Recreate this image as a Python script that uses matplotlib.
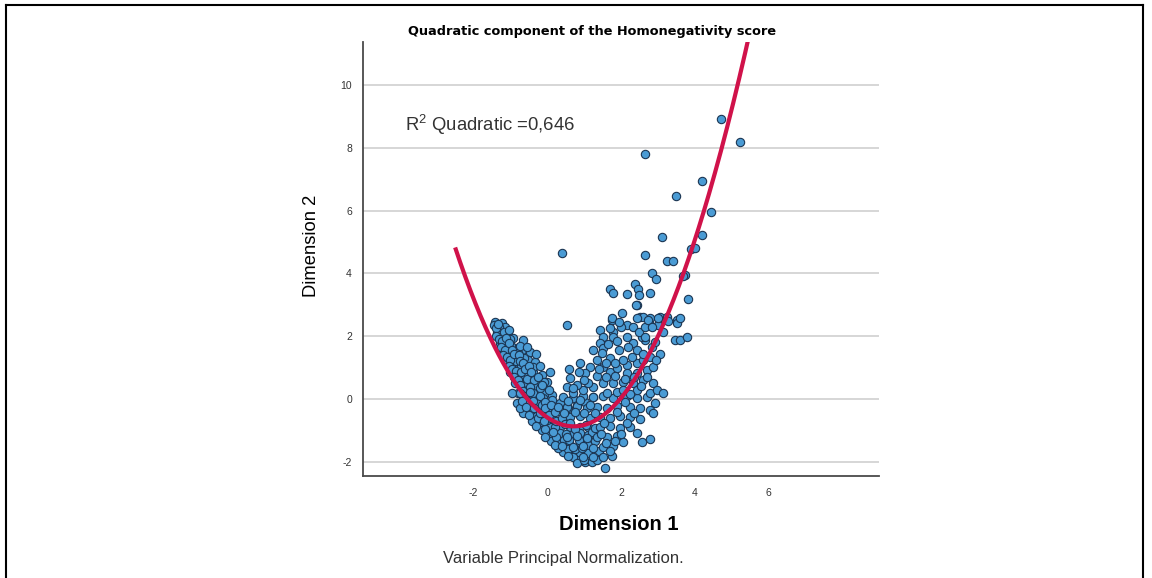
import numpy as np
import matplotlib
matplotlib.use('Agg')
import matplotlib.pyplot as plt
from matplotlib.lines import Line2D

# ---------------- data (Dimension 1, Dimension 2) ----------------
left_arm = [(-1.41,2.45),(-1.22,2.42),(-1.28,2.26),(-1.14,2.29),(-1.28,1.97),(-1.09,1.88),(-0.92,1.94),
            (-0.65,1.88),(-1.06,1.66),(-0.87,1.62),(-0.68,1.56),(-0.46,1.50),(-0.92,1.34),(-0.73,1.31),
            (-0.52,1.24),(-0.33,1.18),(0.08,0.86),(-0.95,1.08),(-0.79,0.99),(-0.54,0.92),(-0.38,0.86),
            (-0.14,0.76),(-0.81,0.70),(-0.65,0.61),(-0.46,0.54),(-0.24,0.51),(0.00,0.54),(-0.68,0.35),
            (-0.52,0.29),(-0.27,0.22),(-0.05,0.19),(0.14,0.13),(-0.54,0.03),(-0.33,0.03),(-0.11,0.03),
            (0.14,-0.03),(-1.19,1.56),(-1.09,1.24),(-1.00,0.86),(-0.87,0.51),(-0.79,0.19),(-1.28,1.78),
            (-1.36,2.10),(-1.20,2.05),(-1.15,1.75),(-1.02,1.45),(-0.98,1.70),(-0.80,1.48),(-0.85,1.20),
            (-0.62,1.30),(-0.70,1.05),(-0.60,0.75),(-0.45,0.70),(-0.40,1.02),(-0.55,0.50),(-0.35,0.40),
            (-0.20,0.35),(-0.42,0.15),(-1.30,2.30),(-1.25,2.10),(-1.10,2.00),(-1.00,1.90),(-0.75,1.70),
            (-0.55,1.65),(-0.30,1.45),(-0.20,1.05),(-0.10,0.55),(0.05,0.30),
            (-1.45,2.35),(-1.38,2.25),(-1.33,2.40),(-1.18,2.15),(-1.05,2.20),(-1.40,2.00),(-1.32,1.90),
            (-1.22,1.85),(-1.12,1.95),(-1.25,1.65),(-1.15,1.55),(-1.05,1.80),(-0.95,1.55),(-1.20,1.40),
            (-1.10,1.35),(-1.00,1.25),(-0.90,1.45),(-0.78,1.40),(-1.05,1.05),(-0.95,0.95),(-0.85,0.90),
            (-0.75,1.20),(-0.65,1.15),(-0.90,0.70),(-0.80,0.60),(-0.70,0.85),(-0.60,0.95),(-0.50,1.05),
            (-0.75,0.45),(-0.65,0.25),(-0.55,0.65),(-0.45,0.85),(-0.35,0.60),(-0.62,0.10),(-0.48,0.38),
            (-0.38,0.20),(-0.25,0.70),(-0.15,0.45)]

bottom_arm = [(-0.95,0.19),(-0.73,0.19),(-0.46,0.22),(-0.81,-0.13),(-0.54,-0.13),(-0.27,-0.25),(0.35,-0.13),
              (0.57,-0.29),(0.81,-0.19),(1.03,-0.10),(-0.65,-0.45),(-0.38,-0.51),(-0.11,-0.51),(-0.42,-0.70),
              (-0.19,-0.76),(0.08,-0.89),(0.35,-0.89),(0.62,-0.89),(0.90,-0.89),(1.11,-0.89),(-0.15,-1.00),
              (0.08,-1.15),(0.35,-1.08),(0.62,-1.15),(0.90,-1.08),(1.11,-1.15),(0.10,-1.35),(0.35,-1.40),
              (0.62,-1.46),(0.90,-1.40),(1.11,-1.46),(0.43,-1.69),(0.68,-1.72),(0.90,-1.72),(1.11,-1.72),
              (0.81,-1.94),(1.03,-2.01),(-0.73,-0.29),(0.00,-0.67),(-0.30,-0.10),(-0.15,-0.20),(-0.45,-0.35),
              (-0.25,-0.60),(0.00,-0.35),(0.10,-0.60),(0.20,-0.90),(-0.05,-0.95),(0.25,-1.20),(0.45,-1.30),
              (0.30,-1.55),(0.55,-1.60),(0.70,-1.85),
              (-0.68,-0.05),(-0.58,-0.25),(-0.40,-0.05),(-0.20,0.10),(-0.05,-0.10),(-0.50,-0.50),(-0.35,-0.30),
              (-0.20,-0.45),(-0.05,-0.30),(0.10,-0.20),(-0.30,-0.85),(-0.10,-0.70),(0.05,-0.50),(0.20,-0.40),
              (-0.05,-1.20),(0.15,-1.05),(0.25,-0.70),(0.40,-0.60),(0.20,-1.45),(0.40,-1.50),(0.50,-1.10),
              (0.60,-1.30),(0.55,-1.80),(0.75,-1.60),(0.85,-1.30),(0.95,-1.55),(0.80,-2.05),(1.00,-1.95),
              (1.20,-2.00),(1.35,-1.95),(1.40,-1.65),(1.30,-1.35),(1.20,-1.05)]

lower_core = [(0.43,0.08),(0.71,0.03),(0.98,0.10),(1.25,0.05),(1.52,0.09),(1.79,0.02),(2.17,0.11),(2.44,0.04),
              (2.71,0.07),(2.93,-0.13),(0.54,-0.25),(0.81,-0.22),(1.09,-0.28),(1.36,-0.24),(1.63,-0.27),
              (1.90,-0.21),(2.25,-0.26),(2.52,-0.30),(2.80,-0.35),(0.62,-0.57),(0.90,-0.55),(1.17,-0.60),
              (1.44,-0.56),(1.71,-0.59),(1.98,-0.54),(2.25,-0.58),(2.52,-0.62),(0.48,-0.80),(0.76,-0.95),
              (1.04,-0.82),(1.30,-0.93),(1.44,-0.90),(1.71,-0.86),(1.98,-0.92),(2.25,-0.89),(2.44,-1.08),
              (0.54,-1.21),(0.81,-1.19),(1.09,-1.23),(1.36,-1.20),(1.63,-1.22),(1.90,-1.18),(2.06,-1.37),
              (0.71,-1.53),(0.98,-1.50),(1.25,-1.55),(1.52,-1.52),(1.79,-1.49),(0.98,-1.85),(1.25,-1.83),
              (1.52,-1.86),(1.76,-1.81),(1.57,-2.20),(2.58,-1.37),(2.80,-1.27),
              (1.45,-1.10),(1.60,-1.40),(1.70,-1.65),(1.85,-1.35),(2.00,-1.10),(2.15,-0.75),(2.35,-0.45),
              (2.10,-0.10),(1.90,-0.40),(1.55,-0.75),(1.30,-0.45),(1.00,-0.45),(0.75,-0.40),(0.45,-0.45),
              (0.30,-0.25),(0.55,-0.05)]

center_cloud = [(1.76,2.52),(2.17,2.36),(2.33,2.29),(2.52,2.61),(2.80,2.58),(2.80,2.36),(3.07,2.61),(1.44,2.20),
                (1.79,2.13),(1.52,1.97),(1.79,1.97),(1.44,1.78),(1.52,1.62),(1.25,1.56),(1.49,1.46),(1.71,1.31),
                (2.17,1.97),(2.33,1.78),(2.44,1.56),(2.66,1.88),(2.85,1.66),(2.58,1.97),(0.90,1.15),(1.17,1.02),
                (1.03,0.83),(0.62,0.67),(0.54,0.38),(1.52,1.02),(1.71,0.86),(1.90,0.99),(2.17,1.08),(2.44,1.15),
                (2.61,1.24),(2.80,1.34),(2.17,0.83),(2.44,0.83),(2.71,0.92),(2.88,1.02),(0.71,0.19),(0.98,0.29),
                (1.25,0.38),(1.52,0.51),(1.79,0.51),(2.06,0.54),(2.33,0.51),(2.61,0.61),(2.88,0.51),(0.90,-0.03),
                (1.25,0.06),(1.63,0.19),(1.90,0.22),(2.44,0.29),(2.80,0.19),(2.44,2.99),(3.26,2.61),(3.53,2.52),
                (2.99,0.29),(2.88,-0.45),(3.15,0.19),(0.62,-0.76),(1.10,0.50),(1.35,0.75),(1.60,0.70),(1.85,0.75),
                (2.05,0.30),(2.25,0.15),(1.35,1.25),(1.95,1.55),(2.05,1.25),(2.30,1.35),(1.65,1.75),(2.00,2.30),
                (0.80,0.45),(1.15,-0.20),
                (0.70,0.35),(1.00,0.60),(0.85,0.85),(0.60,0.95),(1.40,0.95),(1.60,1.15),(1.85,1.15),(2.10,0.65),
                (2.35,0.70),(2.55,0.40),(2.70,0.70),(2.60,1.45),(2.20,1.65),(1.90,1.85),(1.70,2.25),(2.50,2.15),
                (2.65,2.30),(3.00,2.35),(3.15,2.15),(3.05,1.45),(2.95,1.25)]

upper_cloud = [(2.66,4.59),(3.26,4.39),(3.42,4.39),(2.85,4.01),(2.96,3.82),(3.74,3.95),(2.80,3.38),(3.83,3.18),
               (2.61,2.61),(2.74,2.52),(2.85,2.29),(3.01,2.58),(3.28,2.48),(3.53,2.42),(3.61,2.58),(3.47,1.88),
               (3.61,1.88),(3.80,1.97),(2.66,1.97),(2.93,1.82),(3.12,5.16),(3.91,4.78),(4.02,4.81),(3.69,3.92),
               (1.71,3.50),(1.79,3.38),(2.17,3.34),(2.39,3.66),(2.47,3.50),(2.50,3.31),(2.42,2.99),(1.76,2.58),
               (2.44,2.58),(2.04,2.75),(1.95,2.45)]

outliers = [(4.72,8.92),(5.24,8.18),(2.66,7.80),(4.21,6.94),(3.50,6.46),(4.45,5.96),(4.21,5.22),
            (0.41,4.65),(0.54,2.36)]

# quadratic fit (y = a x^2 + b x + c), drawn over the range
fit_coef = [0.55, -0.79, -0.585]
fit_x_range = (-2.5, 5.7)
r2_label = 'R$^2$ Quadratic =0,646'

x_ticks = [-2, 0, 2, 4, 6]
y_ticks = [-2, 0, 2, 4, 6, 8, 10]
x_limits = (-5.0, 9.0)
y_limits = (-2.45, 11.37)

title = 'Quadratic component of the Homonegativity score'
x_label = 'Dimension 1'
y_label = 'Dimension 2'
footnote = 'Variable Principal Normalization.'

# ---------------- drawing ----------------
plt.rcParams['font.family'] = ['Liberation Sans', 'DejaVu Sans']
plt.rcParams['mathtext.fontset'] = 'custom'
plt.rcParams['mathtext.rm'] = 'Liberation Sans'
plt.rcParams['mathtext.it'] = 'Liberation Sans:italic'
plt.rcParams['axes.unicode_minus'] = False

W, H = 1152, 578
fig = plt.figure(figsize=(W / 100, H / 100), dpi=100)
fig.patch.set_facecolor('white')

ax_l, ax_r, ax_t, ax_b = 363, 879, 42, 476
ax = fig.add_axes([ax_l / W, 1 - ax_b / H, (ax_r - ax_l) / W, (ax_b - ax_t) / H])

pts = np.array(left_arm + bottom_arm + lower_core + center_cloud + upper_cloud + outliers)

ax.set_xlim(*x_limits)
ax.set_ylim(*y_limits)
ax.set_xticks(x_ticks)
ax.set_yticks(y_ticks)
ax.yaxis.grid(True, color='#d6d6d6', linewidth=1.4)
ax.xaxis.grid(False)
ax.set_axisbelow(True)

for s in ['top', 'right']:
    ax.spines[s].set_visible(False)
for s in ['left', 'bottom']:
    ax.spines[s].set_color('#4a4a4a')
    ax.spines[s].set_linewidth(1.3)

ax.tick_params(axis='both', length=0, labelsize=7.5, labelcolor='#333333')
ax.tick_params(axis='x', pad=9)
ax.tick_params(axis='y', pad=8)

ax.scatter(pts[:, 0], pts[:, 1], s=36, facecolor='#4a9bd4', edgecolor='#1b3552',
           linewidth=0.8, zorder=3)

xf = np.linspace(fit_x_range[0], fit_x_range[1], 300)
yf = np.polyval(fit_coef, xf)
ax.plot(xf, yf, color='#d0124a', linewidth=3.0, zorder=4, solid_capstyle='butt')

fig.text(405 / W, 1 - 125 / H, r2_label, fontsize=13.3, color='#333333', ha='left', va='center')
fig.text(592 / W, 1 - 31 / H, title, fontsize=9.3, fontweight='bold', ha='center', va='center',
         family=['DejaVu Sans'])
fig.text(619 / W, 1 - 524 / H, x_label, fontsize=14.5, fontweight='bold', ha='center', va='center')
fig.text(312 / W, 1 - 246 / H, y_label, fontsize=13.2, rotation=90, ha='center', va='center')
fig.text(563 / W, 1 - 559 / H, footnote, fontsize=12, color='#333333', ha='center', va='center')

# outer frame of the exported figure
fx0, fx1, fy0 = 6 / W, 1143 / W, 1 - 5 / H
fig.add_artist(Line2D([fx0, fx0], [0, fy0], color='black', linewidth=1.5))
fig.add_artist(Line2D([fx0, fx1], [fy0, fy0], color='black', linewidth=1.5))
fig.add_artist(Line2D([fx1, fx1], [0, fy0], color='black', linewidth=1.5))

fig.savefig('out.png', dpi=100, facecolor='white')
